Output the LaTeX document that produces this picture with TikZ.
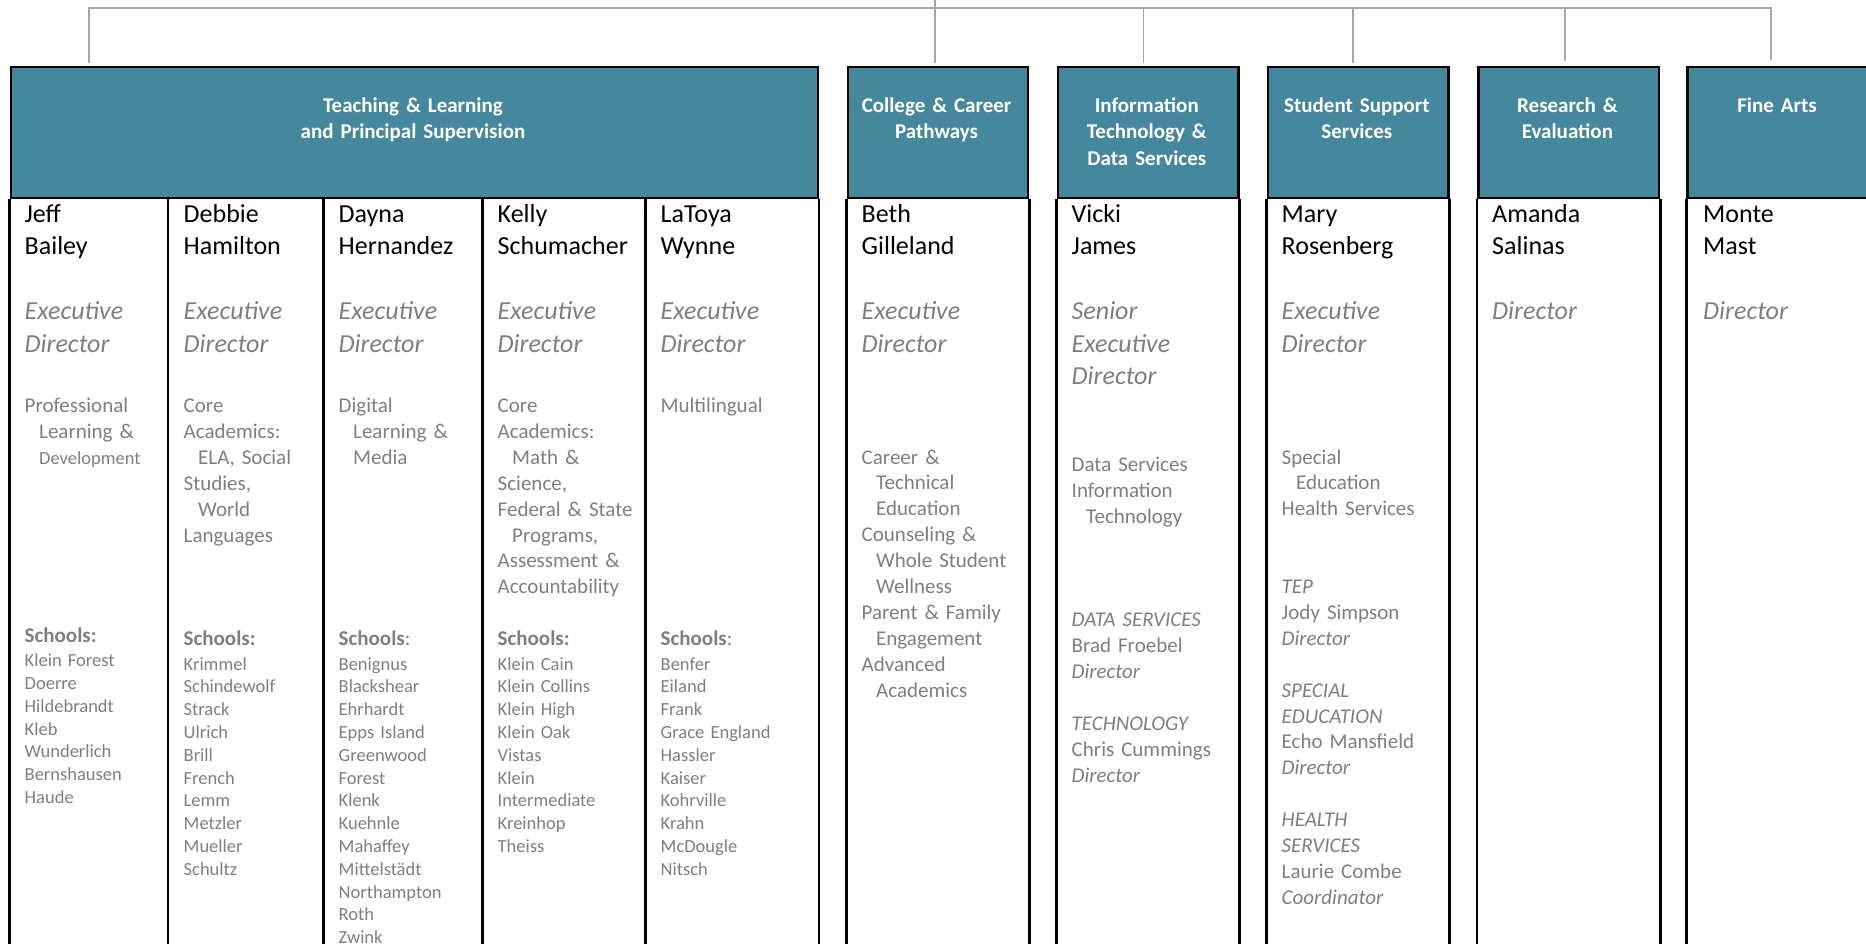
\documentclass[tikz,border=0pt]{standalone}
\usepackage{fontspec}
\setmainfont{Carlito}
\definecolor{hdrteal}{HTML}{45889E}
\definecolor{txtgrey}{HTML}{7F7F7F}
\definecolor{conngrey}{HTML}{A6A6A6}
\newcommand\hind{\hspace*{14.5pt}}
\begin{document}
\begin{tikzpicture}[x=1pt,y=-1pt,
  boxline/.style={draw=black, line width=2.6pt},
  hdr/.style={draw=black, line width=2.6pt, fill=hdrteal, inner sep=0, anchor=north west, minimum height=131pt},
  conn/.style={draw=conngrey, line width=1.6pt},
  htxt/.style={anchor=base, inner sep=0, text width=175pt, align=center, text=white, font=\fontsize{21}{26.5}\selectfont\bfseries},
  nm/.style={anchor=base west, inner sep=0, text width=160pt, align=left, text=black, font=\fontsize{26}{32.4}\selectfont},
  ttl/.style={anchor=base west, inner sep=0, text width=160pt, align=left, text=txtgrey, font=\fontsize{26}{32.8}\selectfont\itshape},
  dsc/.style={anchor=base west, inner sep=0, text width=160pt, align=left, text=txtgrey, font=\fontsize{21}{25.9}\selectfont},
  schh/.style={anchor=base west, inner sep=0, text=txtgrey, font=\fontsize{21}{25}\selectfont},
  sch/.style={anchor=base west, inner sep=0, text width=150pt, align=left, text=txtgrey, font=\fontsize{18.5}{22.8}\selectfont},
]
\useasboundingbox (0,0) rectangle (1866,943);
\clip (0,0) rectangle (1866,943);

% ---------- headers ----------
\node[hdr, minimum width=806.9pt] (teach) at (9.6,65.7) {};
\node[hdr, minimum width=180.2pt] (college) at (846.5,65.7) {};
\node[hdr, minimum width=180.3pt] (info) at (1056.6,65.7) {};
\node[hdr, minimum width=180.3pt] (sss) at (1266.7,65.7) {};
\node[hdr, minimum width=180.8pt] (research) at (1477,65.7) {};
\node[hdr, minimum width=181.6pt] (fine) at (1686.4,65.7) {};

% ---------- column bodies ----------
\foreach \b in {teach,college,info,sss,research,fine}{
  \draw[boxline] (\b.south west) -- ++(0,800);
  \draw[boxline] (\b.south east) -- ++(0,800);
}
\foreach \xx in {168,323.7,482.6,645.7}{
  \draw[boxline] (\xx,196.7) -- (\xx,960);
}

% ---------- header texts ----------
\node[htxt, text width=400pt] (teachT) at (413,112.3) {Teaching \& Learning\\and Principal Supervision};
\node[htxt] (collegeT) at (936.6,112.3) {College \& Career\\Pathways};
\node[htxt] (infoT) at (1146.8,112.3) {Information\\Technology \&\\Data Services};
\node[htxt] (sssT) at (1356.9,112.3) {Student Support\\Services};
\node[htxt] (researchT) at (1567.4,112.3) {Research \&\\Evaluation};
\node[htxt] (fineT) at (1777,112.3) {Fine Arts};

% ---------- connectors ----------
\coordinate (root) at (935,0);
\coordinate (bus) at (935,8);
\coordinate (busL) at (89,8);
\coordinate (busR) at (1771,8);
\coordinate (d3) at (1143.3,8);
\coordinate (d4) at (1353,8);
\coordinate (d5) at (1564.7,8);
\draw[conn, shorten <=3pt, shorten >=6pt] (busL |- teach.north) -- (busL) -- (busR) -- (busR |- fine.north);
\draw[conn] (root) -- (bus);
\draw[conn, shorten >=3pt] (bus) -- (bus |- college.north);
\draw[conn, shorten >=3pt] (d3) -- (d3 |- info.north);
\draw[conn, shorten >=3pt] (d4) -- (d4 |- sss.north);
\draw[conn, shorten >=4.5pt] (d5) -- (d5 |- research.north);

% ---------- column 1: Jeff Bailey ----------
\node[nm] (n1) at (24.5,222) {Jeff\\Bailey};
\node[ttl] (t1) at (24.5,319.3) {Executive\\Director};
\node[dsc] (p1) at (24.5,412.5) {Professional\\\hind Learning \&\\\hind{\fontsize{18.5}{25.9}\selectfont Development}};
\node[schh] (h1) at (24.5,642.7) {\textbf{Schools:}};
\node[sch] (s1) at (24.5,666.7) {Klein Forest\\Doerre\\Hildebrandt\\Kleb\\Wunderlich\\Bernshausen\\Haude};

% ---------- column 2: Debbie Hamilton ----------
\node[nm] (n2) at (183.5,222) {Debbie\\Hamilton};
\node[ttl] (t2) at (183.5,319.3) {Executive\\Director};
\node[dsc] (p2) at (183.5,412.5) {Core\\Academics:\\\hind ELA, Social\\Studies,\\\hind World\\Languages};
\node[schh] (h2) at (183.5,645.7) {\textbf{Schools:}};
\node[sch] (s2) at (183.5,670) {Krimmel\\Schindewolf\\Strack\\Ulrich\\Brill\\French\\Lemm\\Metzler\\Mueller\\Schultz};

% ---------- column 3: Dayna Hernandez ----------
\node[nm] (n3) at (338.5,222) {Dayna\\Hernandez};
\node[ttl] (t3) at (338.5,319.3) {Executive\\Director};
\node[dsc] (p3) at (338.5,412.5) {Digital\\\hind Learning \&\\\hind Media};
\node[schh] (h3) at (338.5,645.7) {\textbf{Schools}:};
\node[sch] (s3) at (338.5,670) {Benignus\\Blackshear\\Ehrhardt\\Epps Island\\Greenwood\\Forest\\Klenk\\Kuehnle\\Mahaffey\\Mittelstädt\\Northampton\\Roth\\Zwink};

% ---------- column 4: Kelly Schumacher ----------
\node[nm] (n4) at (497.5,222) {Kelly\\Schumacher};
\node[ttl] (t4) at (497.5,319.3) {Executive\\Director};
\node[dsc] (p4) at (497.5,412.5) {Core\\Academics:\\\hind Math \&\\Science,\\Federal \& State\\\hind Programs,\\Assessment \&\\Accountability};
\node[schh] (h4) at (497.5,645.7) {\textbf{Schools:}};
\node[sch] (s4) at (497.5,670) {Klein Cain\\Klein Collins\\Klein High\\Klein Oak\\Vistas\\Klein\\Intermediate\\Kreinhop\\Theiss};

% ---------- column 5: LaToya Wynne ----------
\node[nm] (n5) at (660.5,222) {LaToya\\Wynne};
\node[ttl] (t5) at (660.5,319.3) {Executive\\Director};
\node[dsc] (p5) at (660.5,412.5) {Multilingual};
\node[schh] (h5) at (660.5,645.7) {\textbf{Schools}:};
\node[sch] (s5) at (660.5,670) {Benfer\\Eiland\\Frank\\Grace England\\Hassler\\Kaiser\\Kohrville\\Krahn\\McDougle\\Nitsch};

% ---------- column 6: Beth Gilleland ----------
\node[nm] (n6) at (861.5,222) {Beth\\Gilleland};
\node[ttl] (t6) at (861.5,319.3) {Executive\\Director};
\node[dsc] (p6) at (861.5,464) {Career \&\\\hind Technical\\\hind Education\\Counseling \&\\\hind Whole Student\\\hind Wellness\\Parent \& Family\\\hind Engagement\\Advanced\\\hind Academics};

% ---------- column 7: Vicki James ----------
\node[nm] (n7) at (1071.5,222) {Vicki\\James};
\node[ttl] (t7) at (1071.5,319.3) {Senior\\Executive\\Director};
\node[dsc] (p7) at (1071.5,471.7) {Data Services\\Information\\\hind Technology};
\node[dsc] (q7) at (1071.5,626.7) {\textit{DATA SERVICES}\\Brad Froebel\\\textit{Director}\\[25.9pt]\textit{TECHNOLOGY}\\Chris Cummings\\\textit{Director}};

% ---------- column 8: Mary Rosenberg ----------
\node[nm] (n8) at (1281.5,222) {Mary\\Rosenberg};
\node[ttl] (t8) at (1281.5,319.3) {Executive\\Director};
\node[dsc] (p8) at (1281.5,464) {Special\\\hind Education\\Health Services\\[51.8pt]\textit{TEP}\\Jody Simpson\\\textit{Director}\\[25.9pt]\textit{SPECIAL}\\\textit{EDUCATION}\\Echo Mansfield\\\textit{Director}\\[25.9pt]\textit{HEALTH}\\\textit{SERVICES}\\Laurie Combe\\\textit{Coordinator}};

% ---------- column 9: Amanda Salinas ----------
\node[nm] (n9) at (1492,222) {Amanda\\Salinas};
\node[ttl] (t9) at (1492,319.3) {Director};

% ---------- column 10: Monte Mast ----------
\node[nm] (n10) at (1703,222) {Monte\\Mast};
\node[ttl] (t10) at (1703,319.3) {Director};
\end{tikzpicture}
\end{document}
